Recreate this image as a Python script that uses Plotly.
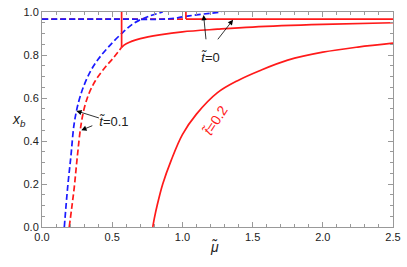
import plotly.graph_objects as go

# ---- data ----
# t=0 (red): metastable dashed branch, vertical jump, stable solid branch
t0_dash_x = [0.0, 0.5, 1.025]
t0_dash_y = [0.967, 0.967, 0.967]
t0_vert_x = [1.025, 1.025]
t0_vert_y = [0.967, 1.0]
t0_solid_x = [1.025, 1.8, 2.5]
t0_solid_y = [0.967, 0.967, 0.967]
# t=0 (blue dashed)
t0_blue_x = [0.0, 0.5, 0.9, 1.0, 1.1, 1.2, 1.28]
t0_blue_y = [0.967, 0.967, 0.968, 0.977, 0.987, 0.994, 1.0]

# t=0.1 (red)
t1_dash_x = [0.194, 0.212, 0.229, 0.252, 0.276, 0.30, 0.334, 0.38, 0.44, 0.51, 0.567]
t1_dash_y = [0.0, 0.09, 0.18, 0.33, 0.467, 0.55, 0.62, 0.68, 0.735, 0.788, 0.836]
t1_vert_x = [0.567, 0.567]
t1_vert_y = [0.836, 1.0]
t1_solid_x = [0.567, 0.6, 0.7, 0.85, 1.0, 1.25, 1.5, 2.0, 2.5]
t1_solid_y = [0.836, 0.852, 0.876, 0.895, 0.908, 0.92, 0.93, 0.942, 0.95]
# t=0.1 (blue dashed)
t1_blue_x = [0.159, 0.182, 0.206, 0.229, 0.26, 0.30, 0.35, 0.40, 0.47, 0.567, 0.66, 0.76, 0.86]
t1_blue_y = [0.0, 0.18, 0.33, 0.48, 0.58, 0.66, 0.73, 0.78, 0.835, 0.90, 0.95, 0.98, 1.0]

# t=0.2 (red)
t2_x = [0.789, 0.80, 0.82, 0.86, 0.92, 1.0, 1.1, 1.25, 1.4, 1.55, 1.75, 2.0, 2.25, 2.5]
t2_y = [0.0, 0.04, 0.10, 0.20, 0.31, 0.43, 0.525, 0.625, 0.683, 0.727, 0.776, 0.813, 0.837, 0.855]

x_ticks = [0.0, 0.5, 1.0, 1.5, 2.0, 2.5]
y_ticks = [0.0, 0.2, 0.4, 0.6, 0.8, 1.0]

RED = "#ff1a1a"
BLUE = "#1a1aff"
LW = 1.7
DASH = "6px,3px"

fig = go.Figure()

def add(x, y, color, dash=None, shape="spline"):
    fig.add_trace(go.Scatter(x=x, y=y, mode="lines",
                             line=dict(color=color, width=LW, dash=dash, shape=shape),
                             showlegend=False, hoverinfo="skip", cliponaxis=True))

add(t0_dash_x, t0_dash_y, RED, DASH, "linear")
add(t0_blue_x, t0_blue_y, BLUE, DASH)
add(t0_vert_x, t0_vert_y, RED, None, "linear")
add(t0_solid_x, t0_solid_y, RED, None, "linear")
add(t1_dash_x, t1_dash_y, RED, DASH)
add(t1_blue_x, t1_blue_y, BLUE, DASH)
add(t1_vert_x, t1_vert_y, RED, None, "linear")
add(t1_solid_x, t1_solid_y, RED)
add(t2_x, t2_y, RED)

TXT = "#222222"
FONT = "Liberation Sans, Arial, sans-serif"

def arrow(tail, tip):
    fig.add_annotation(x=tip[0], y=tip[1], ax=tail[0], ay=tail[1],
                       xref="x", yref="y", axref="x", ayref="y",
                       text="", showarrow=True, arrowhead=2, arrowsize=1.3,
                       arrowwidth=0.8, arrowcolor="black")

arrow((0.416, 0.505), (0.245, 0.54))
arrow((0.369, 0.474), (0.28, 0.45))
arrow((1.169, 0.866), (1.151, 0.986))
arrow((1.244, 0.866), (1.361, 0.964))

fig.add_annotation(x=0.516, y=0.491, xref="x", yref="y", text="<i>t̃</i>=0.1",
                   showarrow=False, font=dict(size=13, color=TXT, family=FONT))
fig.add_annotation(x=1.202, y=0.789, xref="x", yref="y", text="<i>t̃</i>=0",
                   showarrow=False, font=dict(size=13, color=TXT, family=FONT))
fig.add_annotation(x=1.235, y=0.50, xref="x", yref="y", text="<i>t̃</i>=0.2",
                   showarrow=False, textangle=-57,
                   font=dict(size=14, color=RED, family=FONT))

fig.add_annotation(x=-0.092, y=0.50, xref="paper", yref="paper",
                   text="<i>x<sub>b</sub></i>", showarrow=False,
                   font=dict(size=14, color=TXT, family=FONT))
fig.add_annotation(x=0.492, y=-0.14, xref="paper", yref="paper",
                   text="<i>μ̃</i>", showarrow=False,
                   font=dict(size=14, color=TXT, family=FONT))

axis_common = dict(showline=True, linecolor="#999999", linewidth=1, mirror="ticks",
                   ticks="inside", ticklen=5, tickcolor="#999999", tickwidth=1,
                   showgrid=False, zeroline=False, ticklabeloverflow="allow",
                   tickfont=dict(size=11, color=TXT, family=FONT))

fig.update_xaxes(range=[0, 2.5], tickvals=x_ticks, ticktext=[f"{v:.1f}" for v in x_ticks],
                 minor=dict(dtick=0.1, ticks="inside", ticklen=3, tickcolor="#999999", tickwidth=1),
                 **axis_common)
fig.update_yaxes(range=[0, 1.0], tickvals=y_ticks, ticktext=[f"{v:.1f}" for v in y_ticks],
                 minor=dict(dtick=0.05, ticks="inside", ticklen=3, tickcolor="#999999", tickwidth=1),
                 **axis_common)

fig.update_layout(width=407, height=267, margin=dict(l=42, r=8, t=6, b=40),
                  paper_bgcolor="white", plot_bgcolor="white")

fig.write_html("out.html", config={"displayModeBar": False})

# remove default page margin so the figure sits at the window's top-left corner
with open("out.html", "r", encoding="utf-8") as f:
    html = f.read()
html = html.replace("<head>", "<head><style>html,body{margin:0;padding:0;overflow:hidden;}</style>", 1)
with open("out.html", "w", encoding="utf-8") as f:
    f.write(html)
